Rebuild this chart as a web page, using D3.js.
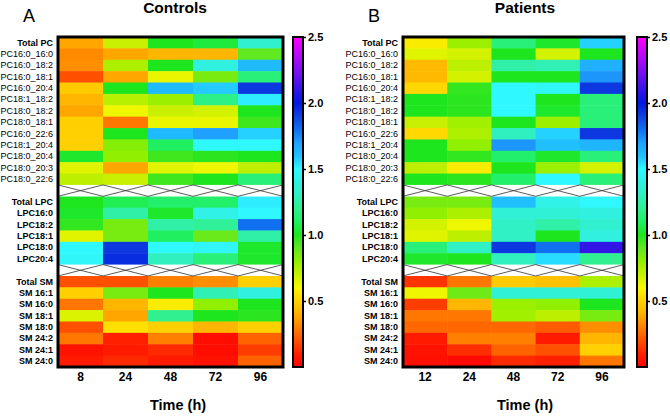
<!DOCTYPE html>
<html><head><meta charset="utf-8">
<script src="https://cdn.jsdelivr.net/npm/d3@7"></script>
<style>
html,body{margin:0;padding:0;background:#fff;}
svg text{font-family:"Liberation Sans",Arial,sans-serif;}
</style></head>
<body><svg id="chart" width="670" height="417"></svg>
<script>
// ---------- data ----------
const timesA = ["8", "24", "48", "72", "96"];
const timesB = ["12", "24", "48", "72", "96"];

const pcRows = ["Total PC","PC16:0_16:0","PC16:0_18:2","PC16:0_18:1","PC16:0_20:4","PC18:1_18:2","PC18:0_18:2","PC18:0_18:1","PC16:0_22:6","PC18:1_20:4","PC18:0_20:4","PC18:0_20:3","PC18:0_22:6"];
const lpcRows = ["Total LPC","LPC16:0","LPC18:2","LPC18:1","LPC18:0","LPC20:4"];
const smRows = ["Total SM","SM 16:1","SM 16:0","SM 18:1","SM 18:0","SM 24:2","SM 24:1","SM 24:0"];

const controlsPC = [
  [0.38,0.70,1.00,1.05,1.35],
  [0.32,0.38,0.42,0.42,0.90],
  [0.33,0.75,1.00,1.40,1.62],
  [0.20,0.38,0.63,0.85,1.15],
  [0.48,1.00,1.62,1.58,1.92],
  [0.42,0.73,0.78,1.18,1.52],
  [0.38,0.62,0.70,0.68,1.00],
  [0.50,0.28,0.63,0.63,0.95],
  [0.50,1.00,1.62,1.70,1.57],
  [0.50,0.82,1.10,1.50,1.50],
  [1.02,0.80,0.95,0.98,1.00],
  [0.65,0.38,0.65,0.62,0.72],
  [0.72,0.70,0.95,1.00,1.15]
];
const controlsLPC = [
  [1.00,1.08,1.12,1.12,1.52],
  [1.02,1.25,1.02,1.42,1.50],
  [0.97,0.85,1.25,1.22,1.80],
  [0.65,0.85,1.10,0.88,1.25],
  [1.50,1.92,1.50,1.48,1.02],
  [1.48,1.95,1.30,1.15,1.02]
];
const controlsSM = [
  [0.20,0.20,0.30,0.33,0.50],
  [0.50,0.85,1.00,1.28,1.40],
  [0.28,0.42,0.57,0.80,1.00],
  [0.66,0.38,1.20,1.00,0.98],
  [0.20,0.54,0.50,0.42,0.50],
  [0.28,0.10,0.30,0.04,0.24],
  [0.06,0.08,0.12,0.04,0.16],
  [0.08,0.12,0.08,0.06,0.24]
];
const patientsPC = [
  [0.57,0.78,1.15,1.02,1.57],
  [0.65,0.68,1.00,0.68,1.00],
  [0.43,0.72,1.25,1.28,1.65],
  [0.43,0.68,1.00,1.00,1.72],
  [0.52,0.97,1.50,1.47,1.92],
  [1.00,0.98,1.50,1.00,1.15],
  [1.00,0.98,1.50,1.02,1.15],
  [0.70,0.77,1.00,0.78,1.15],
  [0.52,0.75,1.30,1.57,1.92],
  [1.00,0.80,1.72,1.60,1.63],
  [1.00,0.97,1.12,1.02,1.15],
  [0.72,0.57,1.00,0.78,0.68],
  [1.00,0.98,1.12,1.50,1.15]
];
const patientsLPC = [
  [0.85,0.85,1.60,1.42,1.50],
  [0.80,0.75,1.37,1.37,1.40],
  [0.68,0.62,1.32,1.25,1.35],
  [0.65,0.72,1.32,1.00,1.40],
  [1.15,1.32,1.92,1.80,2.10],
  [1.02,1.00,1.30,1.55,1.20]
];
const patientsSM = [
  [0.14,0.28,0.48,0.45,0.75],
  [0.62,0.87,1.37,1.37,1.37],
  [0.16,0.42,0.78,0.80,1.00],
  [0.28,0.28,0.77,0.72,0.85],
  [0.25,0.25,0.25,0.22,0.33],
  [0.08,0.30,0.30,0.08,0.42],
  [0.06,0.13,0.24,0.20,0.50],
  [0.05,0.03,0.12,0.10,0.28]
];
const legendTicks = [0.5, 1.0, 1.5, 2.0, 2.5];
const colorDomain = [0,0.1,0.2,0.3,0.4,0.5,0.6,0.7,0.8,0.9,1.0,1.1,1.2,1.3,1.4,1.5,1.6,1.7,1.8,1.9,2.0,2.25,2.5];
const colorRange = ["#ff0000","#ff2000","#ff5000","#ff8000","#ffb000","#ffd000","#f8f800","#c8f000","#90f000","#60e820","#1ee61e","#20f060","#30f090","#30f0c0","#30f0e0","#30f8ff","#20c0ff","#20a0ff","#1070f0","#1040e0","#0018e0","#8010f0","#ff00ff"];

// ---------- drawing ----------
const svg = d3.select("#chart");
const color = d3.scaleLinear().domain(colorDomain).range(colorRange).interpolate(d3.interpolateRgb).clamp(true);
const rowKeys = [...pcRows, "__gap1", ...lpcRows, "__gap2", ...smRows];
const boldRow = r => !/^PC/.test(r);

function panel(cfg) {
  const g = svg.append("g");
  const x = d3.scaleBand().domain(cfg.times).range([cfg.x0, cfg.x1]);
  const y = d3.scaleBand().domain(rowKeys).range([37, 367]);
  const cells = [];
  const addGroup = (rows, vals) => rows.forEach((r, i) => cfg.times.forEach((t, j) => cells.push({r, t, v: vals[i][j]})));
  addGroup(pcRows, cfg.pc); addGroup(lpcRows, cfg.lpc); addGroup(smRows, cfg.sm);

  g.selectAll("rect.cell").data(cells).join("rect").attr("class","cell")
    .attr("x", d => x(d.t)).attr("y", d => y(d.r))
    .attr("width", x.bandwidth() + 0.5).attr("height", y.bandwidth() + 0.5)
    .attr("fill", d => color(d.v));

  // separator rows with crosses
  ["__gap1","__gap2"].forEach(gk => {
    g.append("rect").attr("x", cfg.x0).attr("y", y(gk)).attr("width", cfg.x1 - cfg.x0).attr("height", y.bandwidth()).attr("fill", "#fff");
    cfg.times.forEach(t => {
      const xa = x(t), xb = x(t) + x.bandwidth(), ya = y(gk), yb = y(gk) + y.bandwidth();
      g.append("path").attr("d", `M${xa},${ya}L${xb},${yb}M${xa},${yb}L${xb},${ya}`)
        .attr("stroke", "#333").attr("stroke-width", 0.8).attr("fill", "none");
    });
  });

  g.append("rect").attr("x", cfg.x0).attr("y", 37).attr("width", cfg.x1 - cfg.x0).attr("height", 330)
    .attr("fill", "none").attr("stroke", "#000").attr("stroke-width", 3);

  // row labels
  const yAxis = d3.axisLeft(y).tickSize(0).tickPadding(5).tickFormat(d => d.startsWith("__") ? "" : d);
  const ya = g.append("g").attr("transform", `translate(${cfg.x0},0)`).call(yAxis);
  ya.select(".domain").remove();
  ya.selectAll("text").attr("font-size", 9).attr("fill", "#000")
    .attr("font-weight", d => boldRow(d) ? "bold" : "normal")
    .attr("font-family", "'Liberation Sans', Arial, sans-serif");

  // x labels
  const xAxis = d3.axisBottom(x).tickSize(0).tickPadding(5);
  const xa = g.append("g").attr("transform", `translate(0,367)`).call(xAxis);
  xa.select(".domain").remove();
  xa.selectAll("text").attr("font-size", 12).attr("font-weight", "bold").attr("fill", "#000")
    .attr("font-family", "'Liberation Sans', Arial, sans-serif");

  g.append("text").attr("x", cfg.xTitleX).attr("y", 410).attr("text-anchor", "middle")
    .attr("font-size", 14.5).attr("font-weight", "bold").text("Time (h)");
  g.append("text").attr("x", cfg.titleX).attr("y", 13).attr("text-anchor", "middle")
    .attr("font-size", 15.5).attr("font-weight", "bold").text(cfg.title);
  g.append("text").attr("x", cfg.letterX).attr("y", 22).attr("font-size", 18).text(cfg.letter);

  // colour bar
  const ly = d3.scaleLinear().domain([0, 2.5]).range([367, 37]);
  const gid = "grad" + cfg.letter;
  const grad = svg.append("defs").append("linearGradient").attr("id", gid)
    .attr("x1", 0).attr("y1", 1).attr("x2", 0).attr("y2", 0);
  colorDomain.forEach((d, i) => grad.append("stop").attr("offset", d / 2.5).attr("stop-color", colorRange[i]));
  g.append("rect").attr("x", cfg.cb).attr("y", 37).attr("width", 10).attr("height", 330)
    .attr("fill", `url(#${gid})`).attr("stroke", "#000").attr("stroke-width", 2);
  const la = g.append("g").attr("transform", `translate(${cfg.cb + 10},0)`)
    .call(d3.axisRight(ly).tickValues(legendTicks).tickSize(3).tickPadding(2).tickFormat(d3.format(".1f")));
  la.select(".domain").remove();
  la.selectAll("line").attr("stroke", "#000").attr("stroke-width", 1.5);
  la.selectAll("text").attr("font-size", 11).attr("font-weight", "bold").attr("fill", "#000")
    .attr("font-family", "'Liberation Sans', Arial, sans-serif");
}

panel({x0: 58, x1: 283, times: timesA, pc: controlsPC, lpc: controlsLPC, sm: controlsSM,
  title: "Controls", titleX: 175, letter: "A", letterX: 23, xTitleX: 178, cb: 293});
panel({x0: 403, x1: 624, times: timesB, pc: patientsPC, lpc: patientsLPC, sm: patientsSM,
  title: "Patients", titleX: 525, letter: "B", letterX: 368, xTitleX: 525, cb: 637});
</script></body></html>
